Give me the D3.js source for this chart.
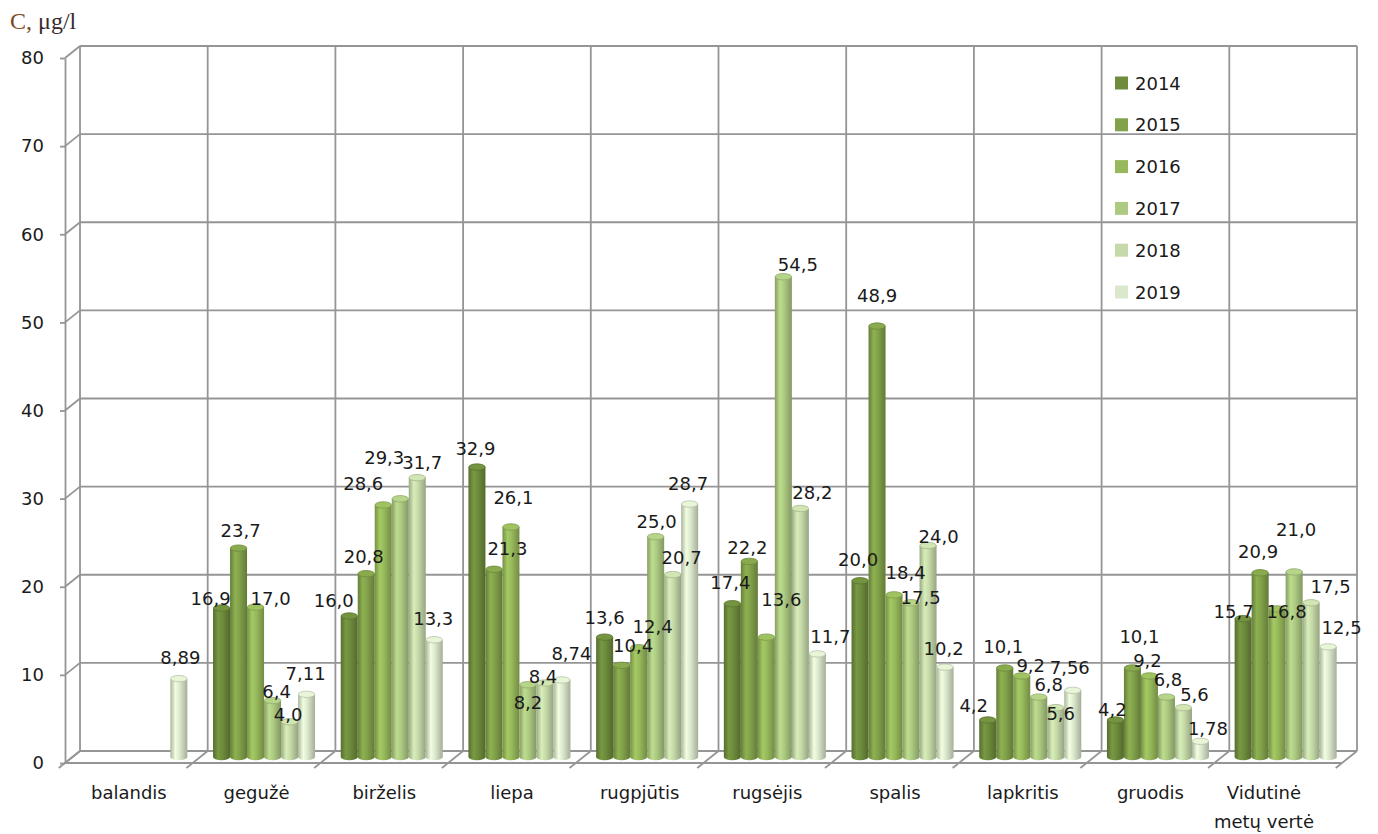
<!DOCTYPE html>
<html>
<head>
<meta charset="utf-8">
<script src="https://cdn.jsdelivr.net/npm/d3@7"></script>
<style>
  html, body { margin: 0; padding: 0; background: #fff; }
  svg { display: block; }
  text { fill: #1a1a1a; }
</style>
</head>
<body>
<svg id="chart" width="1378" height="834"></svg>
<script>
// ---- data ----
const categories = ["balandis", "gegužė", "birželis", "liepa", "rugpjūtis",
  "rugsėjis", "spalis", "lapkritis", "gruodis", "Vidutinė metų vertė"];
const years = ["2014", "2015", "2016", "2017", "2018", "2019"];
const values2014 = [null, 16.9, 16.0, 32.9, 13.6, 17.4, 20.0, 4.2, 4.2, 15.7];
const values2015 = [null, 23.7, 20.8, 21.3, 10.4, 22.2, 48.9, 10.1, 10.1, 20.9];
const values2016 = [null, 17.0, 28.6, 26.1, 12.4, 13.6, 18.4, 9.2, 9.2, 16.8];
const values2017 = [null, 6.4, 29.3, 8.2, 25.0, 54.5, 17.5, 6.8, 6.8, 21.0];
const values2018 = [null, 4.0, 31.7, 8.4, 20.7, 28.2, 24.0, 5.6, 5.6, 17.5];
const values2019 = [8.89, 7.11, 13.3, 8.74, 28.7, 11.7, 10.2, 7.56, 1.78, 12.5];
const yTicks = [0, 10, 20, 30, 40, 50, 60, 70, 80];
const axisTitle = "μg/l";

const seriesValues = [values2014, values2015, values2016, values2017, values2018, values2019];

// ---- styling / layout ----
const colors = ["#6e8c3c", "#82a24a", "#97b95b", "#adca82", "#c6daa9", "#dce8cc"];
const sans = "DejaVu Sans, Verdana, sans-serif";
const fontSize = 18;

// label offsets (dx, dy) from each column's top centre, to keep labels apart
const labelNudge = [
  [null, null, null, null, null, [1.5, -21]],
  [[-11, -10], [2, -18], [15, -9], [4, -9], [-1.5, -7], [-1, -21]],
  [[-15.5, -16], [-2.5, -17], [-20, -21], [-16, -41], [5, -15], [-1, -21]],
  [[-1.5, -19], [13.5, -21], [2.5, -29], [0, 18], [-2, -6], [9.5, -26]],
  [[0, -20], [11.5, -20], [14, -21], [1, -15], [9, -17], [-1.5, -21]],
  [[-2, -21], [-2, -14], [15, -38], [14.5, -12], [12, -16], [13, -17]],
  [[-2, -21], [0, -31], [11.5, -22], [9.5, -5], [10.5, -9], [-1.5, -19]],
  [[-14, -14], [-1.5, -21], [9, -10], [10, -13], [5, 6], [-3, -23]],
  [[-3, -10], [7, -31], [-2, -15], [1.5, -18], [11, -13], [7.5, -13]],
  [[-9.5, -7], [-2, -21], [9.5, 3], [2, -42], [19.5, -16], [13.5, -19]]
];

const svg = d3.select("#chart");
const defs = svg.append("defs");

// depth of the 3-D box
const depthX = 15, depthY = -12;
const front = { left: 65, right: 1342, top: 58, bottom: 763 };
const back = { left: front.left + depthX, right: front.right + depthX,
               top: front.top + depthY, bottom: front.bottom + depthY };

const yFront = d3.scaleLinear().domain([0, 80]).range([front.bottom, front.top]);
const yBack = d3.scaleLinear().domain([0, 80]).range([back.bottom, back.top]);
// columns stand halfway into the depth
const yMid = d3.scaleLinear().domain([0, 80]).range([front.bottom + depthY / 2, front.top + depthY / 2]);

const xFront = d3.scaleBand().domain(categories).range([front.left, front.right]);
const xBack = d3.scaleBand().domain(categories).range([back.left, back.right]);
const xMid = d3.scaleBand().domain(categories)
  .range([front.left + depthX / 2, front.right + depthX / 2]);
const xSeries = d3.scaleBand().domain(years).range([0, xMid.bandwidth()])
  .paddingInner(0).paddingOuter(0.755);

const gridColor = "#959595";
const gridWidth = 1.8;
const grid = svg.append("g").attr("stroke", gridColor).attr("stroke-width", gridWidth).attr("fill", "none");

// back wall horizontal gridlines
grid.selectAll("line.h").data(yTicks).join("line")
  .attr("x1", back.left).attr("x2", back.right)
  .attr("y1", d => yBack(d)).attr("y2", d => yBack(d));
// back wall vertical gridlines at category boundaries
const boundaries = d3.range(categories.length + 1);
const bw = xBack.step();
grid.selectAll("line.v").data(boundaries).join("line")
  .attr("x1", i => back.left + i * bw).attr("x2", i => back.left + i * bw)
  .attr("y1", back.top).attr("y2", back.bottom);
// side wall diagonals
grid.selectAll("line.sd").data(yTicks).join("line")
  .attr("x1", front.left).attr("y1", d => yFront(d))
  .attr("x2", back.left).attr("y2", d => yBack(d));
// floor
const fw = xFront.step();
grid.append("line").attr("x1", front.left).attr("x2", front.right)
  .attr("y1", front.bottom).attr("y2", front.bottom);
grid.selectAll("line.fd").data(boundaries).join("line")
  .attr("x1", i => front.left + i * fw - 5 * depthX / 12).attr("y1", front.bottom + 5)
  .attr("x2", i => back.left + i * bw).attr("y2", back.bottom);

// front value axis
const axis = d3.axisLeft(yFront).tickValues(yTicks).tickSize(5).tickSizeOuter(0).tickPadding(16)
  .tickFormat(d3.format("d"));
const axG = svg.append("g").attr("transform", `translate(${front.left},0)`).call(axis);
axG.select(".domain").attr("stroke", gridColor).attr("stroke-width", gridWidth);
axG.selectAll(".tick line").attr("stroke", gridColor).attr("stroke-width", gridWidth);
axG.selectAll(".tick text").attr("font-size", fontSize).style("fill", "#1a1a1a")
  .attr("font-family", sans);

// gradients for cylindrical columns
years.forEach((y, i) => {
  const base = d3.color(colors[i]);
  const g = defs.append("linearGradient").attr("id", "grad" + y)
    .attr("x1", 0).attr("x2", 1).attr("y1", 0).attr("y2", 0);
  g.append("stop").attr("offset", "0%").attr("stop-color", base.darker(0.7));
  g.append("stop").attr("offset", "30%").attr("stop-color", base.brighter(0.25));
  g.append("stop").attr("offset", "55%").attr("stop-color", base);
  g.append("stop").attr("offset", "100%").attr("stop-color", base.darker(0.8));
});

const fmt = v => (Math.abs(v * 10 - Math.round(v * 10)) < 1e-6 ? v.toFixed(1) : v.toFixed(2)).replace(".", ",");

const bars = [];
categories.forEach((c, ci) => {
  years.forEach((y, si) => {
    const v = seriesValues[si][ci];
    if (v == null) return;
    bars.push({ cat: c, ci, year: y, si, value: v });
  });
});

const barW = xSeries.bandwidth();
const ry = 3.2;
const barG = svg.append("g");
const bar = barG.selectAll("g.bar").data(bars).join("g").attr("class", "bar");
bar.append("ellipse")
  .attr("cx", d => xMid(d.cat) + xSeries(d.year) + barW / 2)
  .attr("cy", yMid(0))
  .attr("rx", barW / 2).attr("ry", ry)
  .attr("fill", d => `url(#grad${d.year})`);
bar.append("rect")
  .attr("x", d => xMid(d.cat) + xSeries(d.year))
  .attr("y", d => yMid(d.value))
  .attr("width", barW)
  .attr("height", d => yMid(0) - yMid(d.value))
  .attr("fill", d => `url(#grad${d.year})`);
bar.append("ellipse")
  .attr("cx", d => xMid(d.cat) + xSeries(d.year) + barW / 2)
  .attr("cy", d => yMid(d.value))
  .attr("rx", barW / 2 - 0.3).attr("ry", ry)
  .attr("fill", d => d3.color(colors[d.si]).brighter(0.15))
  .attr("stroke", d => d3.color(colors[d.si]).darker(0.5))
  .attr("stroke-width", 0.8);

// value labels
svg.append("g").selectAll("text").data(bars).join("text")
  .attr("x", d => xMid(d.cat) + xSeries(d.year) + barW / 2 + labelNudge[d.ci][d.si][0])
  .attr("y", d => yMid(d.value) + labelNudge[d.ci][d.si][1])
  .attr("text-anchor", "middle").attr("dominant-baseline", "central")
  .attr("font-family", sans).attr("font-size", fontSize)
  .text(d => fmt(d.value));

// category labels (long names wrap onto two lines)
const catG = svg.append("g");
categories.forEach((c, i) => {
  const words = c.split(" ");
  const lines = c.length > 12 ? [words[0], words.slice(1).join(" ")] : [c];
  const cx = xFront(c) + xFront.bandwidth() / 2;
  const t = catG.append("text").attr("text-anchor", "middle")
    .attr("font-family", sans).attr("font-size", fontSize);
  lines.forEach((ln, li) => {
    t.append("tspan").attr("x", cx).attr("y", 799 + li * 29).text(ln);
  });
  // keep wrapped text inside the frame
  const bb = t.node().getBBox();
  const maxRight = 1314;
  if (bb.x + bb.width > maxRight) {
    const shift = bb.x + bb.width - maxRight;
    t.selectAll("tspan").attr("x", cx - shift);
  }
});

// legend
const legend = svg.append("g").attr("transform", "translate(1115,83)");
const li = legend.selectAll("g").data(years).join("g")
  .attr("transform", (d, i) => `translate(0,${i * 41.8})`);
li.append("rect").attr("x", 0).attr("y", -6.5).attr("width", 13).attr("height", 13)
  .attr("fill", (d, i) => colors[i]);
li.append("text").attr("x", 20).attr("y", 0).attr("dominant-baseline", "central")
  .attr("font-family", sans).attr("font-size", fontSize).text(d => d);

// axis title
const title = svg.append("text").attr("x", 10).attr("y", 29)
  .attr("font-family", "Liberation Serif, Times New Roman, serif").attr("font-size", 24);
title.append("tspan").style("fill", "#7a4a1e").text("C, ");
title.append("tspan").style("fill", "#3a2a30").text(axisTitle);
</script>
</body>
</html>
